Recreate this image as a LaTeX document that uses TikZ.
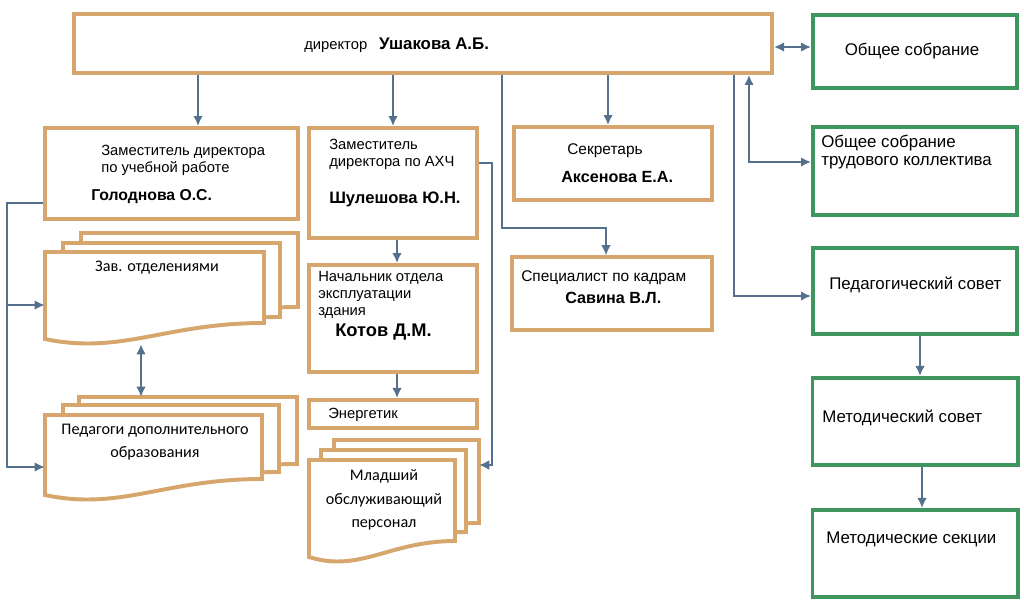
\documentclass[tikz,border=0pt]{standalone}
\usepackage{fontspec}
\setmainfont{Liberation Sans}
\newfontfamily\calfont{Carlito}
\usepackage{tikz}
\usetikzlibrary{positioning}
\usetikzlibrary{calc}
\usetikzlibrary{arrows.meta}
\definecolor{orb}{RGB}{214,166,108}
\definecolor{grb}{RGB}{62,150,94}
\definecolor{lnc}{RGB}{84,112,140}
\tikzset{docb/.style={draw=orb, line width=2.8pt, fill=white}}
% one sheet of a stack, wavy lower edge
\newcommand{\docpage}[4]{\draw[docb] (#1,#2) -- (#3,#2) -- (#3,#4) .. controls ({#3-0.45*(#3-#1)},#4) and ({#1+0.35*(#3-#1)},#4+32) .. (#1,#4+16) -- cycle;}

\begin{document}
\begin{tikzpicture}
[
x=0.025cm, y=-0.025cm,
ob/.style={rectangle, draw=orb, line width=2.8pt, inner sep=0pt},
gb/.style={rectangle, draw=grb, line width=2.8pt, inner sep=0pt},
arr/.style={draw=lnc, line width=1.4pt, -{Latex[length=2.5mm,width=2.4mm]}},
arrd/.style={draw=lnc, line width=1.4pt, {Latex[length=2.5mm,width=2.4mm]}-{Latex[length=2.5mm,width=2.4mm]}},
arrt/.style={draw=lnc, line width=0.8pt, -{Latex[length=2.5mm,width=2.4mm]}},
txt/.style={font=\fontsize{10.5}{12}\selectfont, inner sep=0pt, align=left},
gtxt/.style={font=\fontsize{12}{13}\selectfont, inner sep=0pt, align=left},
nm/.style={font=\fontsize{11.2}{13}\selectfont\bfseries, inner sep=0pt},
dtxt/.style={font=\calfont\fontsize{11.5}{16.5}\selectfont, inner sep=0pt, align=center}
]
\useasboundingbox (0,0) rectangle (1024,607);

% main boxes
\node[ob, minimum width=17.45cm, minimum height=1.475cm] (dir) at (423,43.5) {};
\node[txt, anchor=west] (dirT) at (304,45) {директор\hspace{0.3cm}{\fontsize{12}{14}\selectfont\bfseries Ушакова А.Б.}};

\node[ob, minimum width=6.325cm, minimum height=2.275cm] (zamU) at (171.5,173.5) {};
\node[txt, anchor=north west] (zamUT) at (101,145) {Заместитель директора\\по учебной работе};
\node[nm, anchor=west] (zamUN) at (91,197) {Голоднова О.С.};

\node[ob, minimum width=4.2cm, minimum height=2.75cm] (zamA) at (393,183) {};
\node[txt, anchor=north west] (zamAT) at (329,139) {Заместитель\\директора по АХЧ};
\node[nm, anchor=west, font=\fontsize{11.8}{13}\selectfont\bfseries] (zamAN) at (329,199) {Шулешова Ю.Н.};

\node[ob, minimum width=4.95cm, minimum height=1.825cm] (sekr) at (613,163.5) {};
\node[txt, anchor=west, font=\fontsize{11}{12}\selectfont] (sekrT) at (567,151) {Секретарь};
\node[nm, anchor=west, font=\fontsize{11.5}{13}\selectfont\bfseries] (sekrN) at (561,177) {Аксенова Е.А.};

\node[ob, minimum width=5cm, minimum height=1.825cm] (kadr) at (612,293.5) {};
\node[txt, anchor=west, font=\fontsize{11}{12}\selectfont] (kadrT) at (521,278) {Специалист по кадрам};
\node[nm, anchor=west, font=\fontsize{11.5}{13}\selectfont\bfseries] (kadrN) at (565,298) {Савина В.Л.};

\node[ob, minimum width=4.2cm, minimum height=2.675cm] (nach) at (393,318.5) {};
\node[txt, anchor=north west] (nachT) at (318,271) {Начальник отдела\\эксплуатации\\здания};
\node[nm, anchor=west, font=\fontsize{13}{14}\selectfont\bfseries] (nachN) at (335,332) {Котов Д.М.};

\node[ob, minimum width=4.2cm, minimum height=0.7cm] (energ) [below=0.6cm of nach] {};
\node[txt, anchor=west] (energT) at (328,415) {Энергетик};

% green column
\node[gb, minimum width=5.1cm, minimum height=1.825cm] (obsh) at (915,51.5) {};
\node[gtxt] (obshT) at (912,51) {Общее собрание};
\node[gb, minimum width=5.1cm, minimum height=2.2cm] (trud) at (915,171) {};
\node[gtxt, anchor=north west] (trudT) at (821,135) {Общее собрание\\трудового коллектива};
\node[gb, minimum width=5.1cm, minimum height=2.15cm] (ped) at (915,291) {};
\node[gtxt, anchor=west] (pedT) at (829,285) {Педагогический совет};
\node[gb, minimum width=5.125cm, minimum height=2.175cm] (metod) [below=1.0cm of ped] {};
\node[gtxt, anchor=west] (metodT) at (822,418) {Методический совет};
\node[gb, minimum width=5.125cm, minimum height=2.175cm] (sekc) [below=1.025cm of metod] {};
\node[gtxt, anchor=west] (sekcT) at (826,539) {Методические секции};

% stacks of sheets
\docpage{81}{233}{298}{307}
\docpage{63}{243}{280}{317}
\docpage{45}{252}{264}{323}
\node[minimum width=6.325cm, minimum height=2.775cm, inner sep=0pt] (zav) at (171.5,288.5) {};
\node[dtxt] (zavT) at (157,268) {Зав. отделениями};

\docpage{79}{397}{297}{464}
\docpage{63}{405}{279}{472}
\docpage{45}{415}{262}{479}
\node[minimum width=6.3cm, minimum height=2.575cm, inner sep=0pt] (pdo) at (171,448.5) {};
\node[dtxt] (pdoT) at (155,442) {Педагоги дополнительного\\образования};

\docpage{334}{440}{479}{523}
\docpage{321}{450}{466}{532}
\docpage{309}{460}{455}{541}
\node[minimum width=4.25cm, minimum height=3.05cm, inner sep=0pt] (ml) at (394,501) {};
\node[dtxt] (mlT) at (384,500) {Младший\\обслуживающий\\персонал};

% connectors
\draw[arr] (198,0 |- dir.south) -- (198,0 |- zamU.north);
\draw[arr] (dir.south -| zamA) -- (zamA.north);
\draw[arr] (608,0 |- dir.south) -- (608,0 |- sekr.north);
\draw[arrt] (502,0 |- dir.south) -- (502,228) -| (606,0 |- kadr.north);
\draw[arrd] (dir.east |- 0,47) -- (obsh.west |- 0,47);
\draw[arrd] (trud.west |- 0,162) -| (749,0 |- dir.south);
\draw[arr] (734,0 |- dir.south) |- (ped.west |- 0,296);
\draw[arr] (920,0 |- ped.south) -- (920,0 |- metod.north);
\draw[arr] (922,0 |- metod.south) -- (922,0 |- sekc.north);

\draw[arr] (zamU.west |- 0,203) -| (7,305) -- (zav.west |- 0,305);
\draw[arr] (7,305) -- (7,467) -- (pdo.west |- 0,467);
\draw[arrd] (141,0 |- zav.south) -- (141,0 |- pdo.north);

\draw[arr] (397,0 |- zamA.south) -- (397,0 |- nach.north);
\draw[arr] (397,0 |- nach.south) -- (397,0 |- energ.north);
\draw[arrt] (zamA.east |- 0,163) -- (492,163) |- (ml.east |- 0,465);
\end{tikzpicture}
\end{document}
